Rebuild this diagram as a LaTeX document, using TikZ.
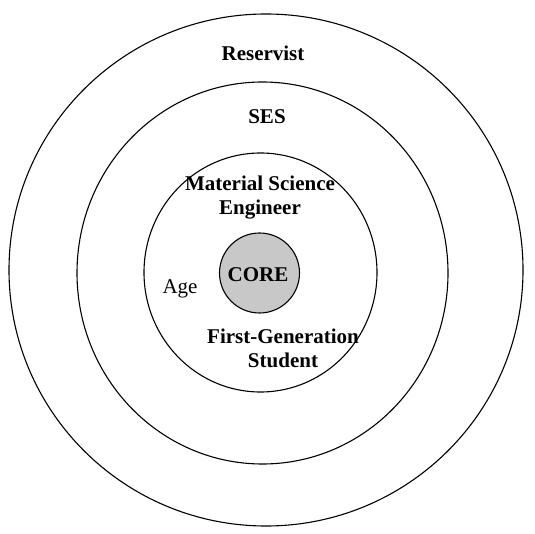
\documentclass[tikz,border=0pt]{standalone}
\usepackage{fontspec}
\setmainfont{Liberation Serif}
\usepackage{xcolor}
\definecolor{coregray}{RGB}{200,200,200}

\begin{document}
\begin{tikzpicture}[x=1pt,y=-1pt,
	ring/.style={draw=black, line width=1.1pt},
	lbl/.style={font=\fontsize{21}{24}\selectfont\bfseries, align=center, inner sep=0pt}]
	% Parameters
	\def\cx{264}
	\def\cy{272}
	\def\rout{257}
	\def\rmid{188}
	\def\rin{118}
	\def\rcore{40}
	
	\useasboundingbox (0,0) rectangle (535,534);
	
	%rings
	\draw[ring] (266,270) ellipse (257 and 256);
	\draw[ring] (262.5,273) ellipse (185.5 and 191);
	\draw[ring] (260.5,272.5) ellipse (116.5 and 119.5);
	\filldraw[ring, fill=coregray] (259.5,273) circle (\rcore);
	
	%labels
	\node[lbl] (reservist) at (263,53) {Reservist};
	\node[lbl] (ses) at (267,117) {SES};
	\node[lbl] (mse) at (260,198) {Material Science\\Engineer};
	\node[lbl] (core) at (258,275) {CORE};
	\node[lbl, font=\fontsize{21}{24}\selectfont] (age) at (180,289) {Age};
	\node[lbl] (firstgen) at (283,348) {First-Generation\\Student};
\end{tikzpicture}
\end{document}
